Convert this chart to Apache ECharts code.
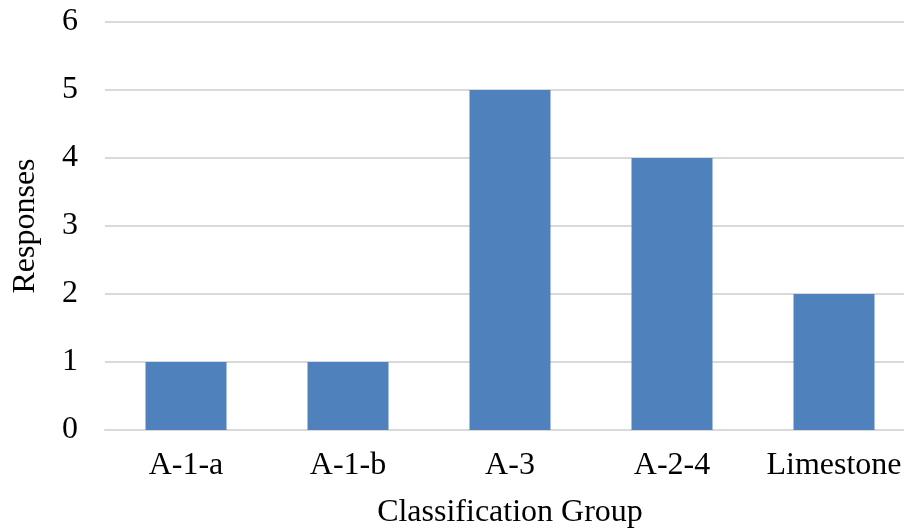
<!DOCTYPE html>
<html>
<head>
<meta charset="utf-8">
<script src="https://cdn.jsdelivr.net/npm/echarts@6/dist/echarts.min.js"></script>
<style>
  html, body { margin: 0; padding: 0; background: #fff; }
  #chart { width: 904px; height: 529px; }
</style>
</head>
<body>
<div id="chart"></div>
<script>
// Survey responses per soil classification group
const categories = ['A-1-a', 'A-1-b', 'A-3', 'A-2-4', 'Limestone'];
const responses = [1, 1, 5, 4, 2];
const yTicks = [0, 1, 2, 3, 4, 5, 6];

const font = '"Liberation Serif", "Times New Roman", serif';
const chart = echarts.init(document.getElementById('chart'));

chart.setOption({
  animation: false,
  grid: {
    left: 105, top: 22, width: 810, height: 408,
    containLabel: false, outerBoundsMode: 'none'
  },
  xAxis: {
    type: 'category',
    data: categories,
    name: 'Classification Group',
    nameLocation: 'middle',
    nameGap: 67,
    nameTextStyle: { fontFamily: font, fontSize: 32, color: '#000' },
    axisLine: { lineStyle: { color: '#d9d9d9', width: 2 } },
    axisTick: { show: false },
    axisLabel: { interval: 0, fontFamily: font, fontSize: 32, color: '#000', margin: 20 }
  },
  yAxis: {
    type: 'value',
    min: yTicks[0],
    max: yTicks[yTicks.length - 1],
    interval: 1,
    name: 'Responses',
    nameLocation: 'middle',
    nameGap: 63,
    nameTextStyle: { fontFamily: font, fontSize: 32, color: '#000' },
    axisLine: { show: false },
    axisTick: { show: false },
    axisLabel: { fontFamily: font, fontSize: 32, color: '#000', margin: 27 },
    splitLine: { lineStyle: { color: '#d9d9d9', width: 2 } }
  },
  series: [{
    type: 'bar',
    data: responses,
    barWidth: '50%',
    itemStyle: { color: '#4f81bd' }
  }]
});
</script>
</body>
</html>
